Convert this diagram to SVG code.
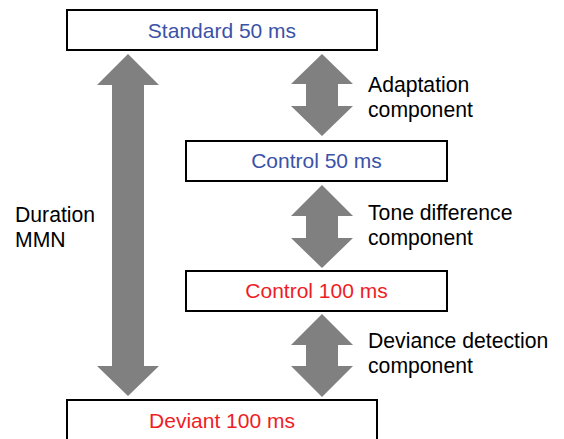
<svg xmlns="http://www.w3.org/2000/svg" width="564" height="439" viewBox="0 0 564 439">
<style>
.box{fill:#fff;stroke:#000;stroke-width:2}
.arr{fill:#808080;stroke:none}
.bt{font-family:"Liberation Sans",Arial,sans-serif;font-size:21px;text-anchor:middle}
.blue{fill:#3A52A8}
.red{fill:#EE1D25}
.lbl{font-family:"Liberation Sans",Arial,sans-serif;font-size:21.2px;fill:#000}
</style>
<rect width="564" height="439" fill="#fff"/>
<g id="connectors">
<path class="arr" d="M128,54 L159,85 L144,85 L144,366 L159,366 L128,396 L97,366 L112,366 L112,85 L97,85 Z"/>
<path class="arr" d="M322,54 L353,84 L338,84 L338,106 L353,106 L322,136 L291,106 L306,106 L306,84 L291,84 Z"/>
<path class="arr" d="M322,185 L353,216 L338,216 L338,238 L353,238 L322,268 L291,238 L306,238 L306,216 L291,216 Z"/>
<path class="arr" d="M322,314 L353,345 L338,345 L338,366 L353,366 L322,397 L291,366 L306,366 L306,345 L291,345 Z"/>
</g>
<g id="standard">
<rect class="box" x="67" y="10" width="310" height="40"/>
<text class="bt blue" x="222" y="38">Standard 50 ms</text>
</g>
<g id="control50">
<rect class="box" x="186" y="141" width="261" height="40"/>
<text class="bt blue" x="316.5" y="168">Control 50 ms</text>
</g>
<g id="control100">
<rect class="box" x="186" y="271" width="261" height="40"/>
<text class="bt red" x="316.5" y="298">Control 100 ms</text>
</g>
<g id="deviant">
<rect class="box" x="67" y="400" width="310" height="50"/>
<text class="bt red" x="222" y="428">Deviant 100 ms</text>
</g>
<g id="labels">
<text class="lbl" x="368" y="92">Adaptation</text>
<text class="lbl" x="368" y="117">component</text>
<text class="lbl" x="368" y="220">Tone difference</text>
<text class="lbl" x="368" y="245">component</text>
<text class="lbl" x="368" y="348">Deviance detection</text>
<text class="lbl" x="368" y="373">component</text>
<text class="lbl" x="15" y="222">Duration</text>
<text class="lbl" x="15" y="247">MMN</text>
</g>
</svg>
